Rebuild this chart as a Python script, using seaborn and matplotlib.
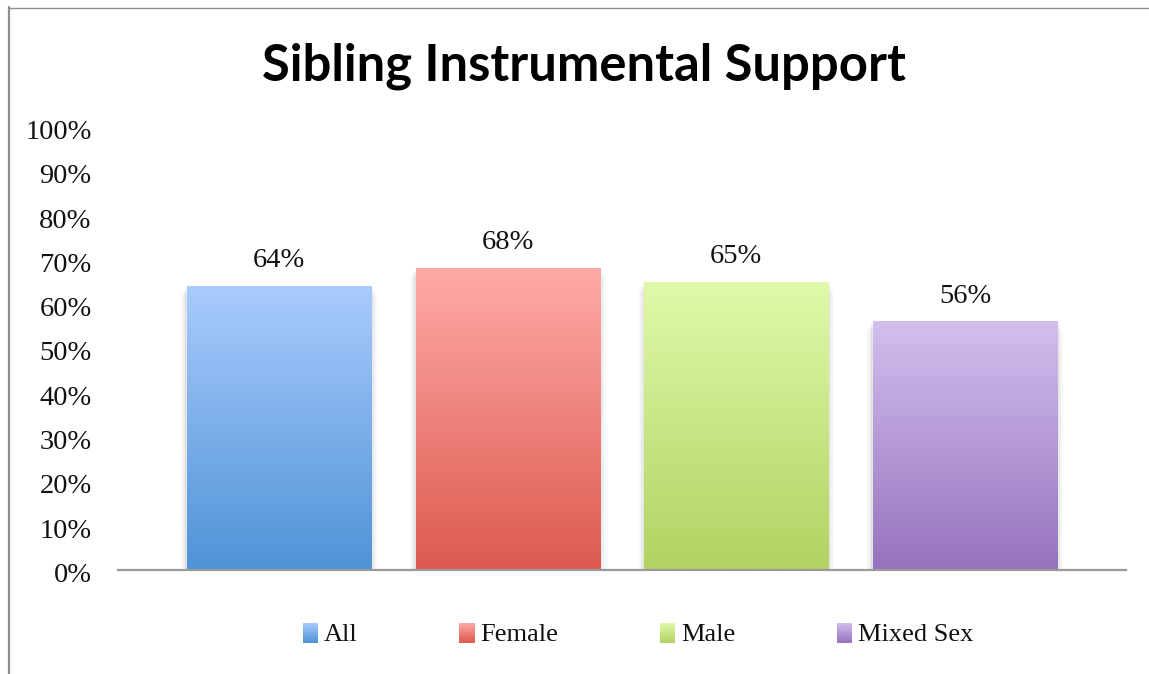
import numpy as np
import pandas as pd
import matplotlib
matplotlib.use("Agg")
import matplotlib.pyplot as plt
import seaborn as sns
from matplotlib.colors import to_rgb
from matplotlib.patches import Rectangle
from matplotlib.lines import Line2D
from matplotlib.legend_handler import HandlerBase
from matplotlib.transforms import ScaledTranslation

# ---- data ----
categories = ["All", "Female", "Male", "Mixed Sex"]
values = [64, 68, 65, 56]
top_colors = ["#aacbfd", "#ffaaa8", "#dffaaa", "#d3bfee"]
bottom_colors = ["#4f93d7", "#dc5a4f", "#b0d362", "#9673be"]
y_ticks = list(range(0, 101, 10))
title = "Sibling Instrumental Support"

sns.set_theme(style="white")
plt.rcParams["font.family"] = ["Liberation Serif", "DejaVu Serif"]

W, H = 1149, 674
fig = plt.figure(figsize=(W / 100, H / 100), dpi=100)
ax = fig.add_axes([118 / W, 1 - 569.5 / H, (1126 - 118) / W, (569.5 - 126.5) / H])

df = pd.DataFrame({"group": categories, "value": values})
bar_w = 0.805
sns.barplot(data=df, x="group", y="value", hue="group", palette=bottom_colors,
            width=bar_w, legend=False, ax=ax, saturation=1)

ax.set_xlim(-0.704, 3.704)
ax.set_ylim(0, 100)


def gradient_img(c_top, c_bot, n=256):
    t = np.linspace(0, 1, n)[:, None]
    a, b = np.array(to_rgb(c_top)), np.array(to_rgb(c_bot))
    return (a[None, :] * (1 - t) + b[None, :] * t)[:, None, :]


px_x = 1 / 228.7   # data units per pixel (x)
px_y = 1 / 4.43    # data units per pixel (y)
for patch, ct, cb, v in zip(ax.patches, top_colors, bottom_colors, values):
    x0, w = patch.get_x(), patch.get_width()
    h = patch.get_height()
    # soft side shadow, fading in below the top edge
    for k, d, a in [(6, 9, 0.018), (4.5, 7, 0.025), (3, 5, 0.035), (1.5, 3, 0.05)]:
        ax.add_patch(Rectangle((x0 - k * px_x, 0), w + 2 * k * px_x, h - d * px_y,
                               facecolor="#000000", alpha=a, lw=0, zorder=1))
    patch.set_zorder(2)
    img = ax.imshow(gradient_img(ct, cb), extent=[x0, x0 + w, 0, h],
                    aspect="auto", zorder=3, interpolation="bilinear")
    img.set_clip_path(patch)
    ax.text(x0 + w / 2, v + 2.9, f"{v}%", ha="center", va="bottom",
            fontsize=20.5, color="#111111", zorder=4)

ax.set_xlim(-0.704, 3.704)
ax.set_ylim(0, 100)
ax.set_yticks(y_ticks)
ax.set_yticklabels([f"{t}%" for t in y_ticks], fontsize=20.5, color="#111111")
ax.tick_params(axis="y", length=0, pad=19)
shift = ScaledTranslation(0, -3 / 100, fig.dpi_scale_trans)
for lab in ax.get_yticklabels():
    lab.set_transform(lab.get_transform() + shift)
ax.set_xticks([])
ax.set_xlabel("")
ax.set_ylabel("")
for s in ["top", "right", "left"]:
    ax.spines[s].set_visible(False)
ax.spines["bottom"].set_color("#9a9a9a")
ax.spines["bottom"].set_linewidth(1.6)
ax.spines["bottom"].set_zorder(5)

fig.text(584 / W, 1 - 66 / H, title, ha="center", va="center",
         fontsize=36.5, fontweight="bold", family=["Lato", "DejaVu Sans"], color="#000000")


# legend with gradient swatches
class GradientHandler(HandlerBase):
    def __init__(self, ct, cb):
        super().__init__()
        self.ct, self.cb = ct, cb

    def create_artists(self, legend, orig_handle, xdescent, ydescent, width, height, fontsize, trans):
        n = 14
        arts = []
        a, b = np.array(to_rgb(self.ct)), np.array(to_rgb(self.cb))
        y0 = -ydescent - height * 0.12
        hh = height * 1.15
        for i in range(n):
            t = (i + 0.5) / n
            c = a * (1 - t) + b * t
            r = Rectangle((-xdescent, y0 + hh * (1 - (i + 1) / n)), width, hh / n + 0.3,
                          facecolor=c, lw=0, transform=trans)
            arts.append(r)
        return arts


handles = [Rectangle((0, 0), 1, 1) for _ in categories]
hmap = {h: GradientHandler(ct, cb) for h, ct, cb in zip(handles, top_colors, bottom_colors)}
fig.legend(handles, categories, handler_map=hmap, loc="center",
           bbox_to_anchor=(638 / W, 1 - 635 / H), ncol=4, frameon=False,
           fontsize=19, handlelength=0.58, handleheight=0.62, handletextpad=0.22,
           columnspacing=3.85, labelcolor="#111111")

# chart border
fig.add_artist(Line2D([8.5 / W, 8.5 / W], [0, 1 - 7 / H], color="#8f8f8f", lw=1.6))
fig.add_artist(Line2D([8.5 / W, 1], [1 - 7.5 / H, 1 - 7.5 / H], color="#8f8f8f", lw=1.0))

fig.savefig("out.png", dpi=100)
